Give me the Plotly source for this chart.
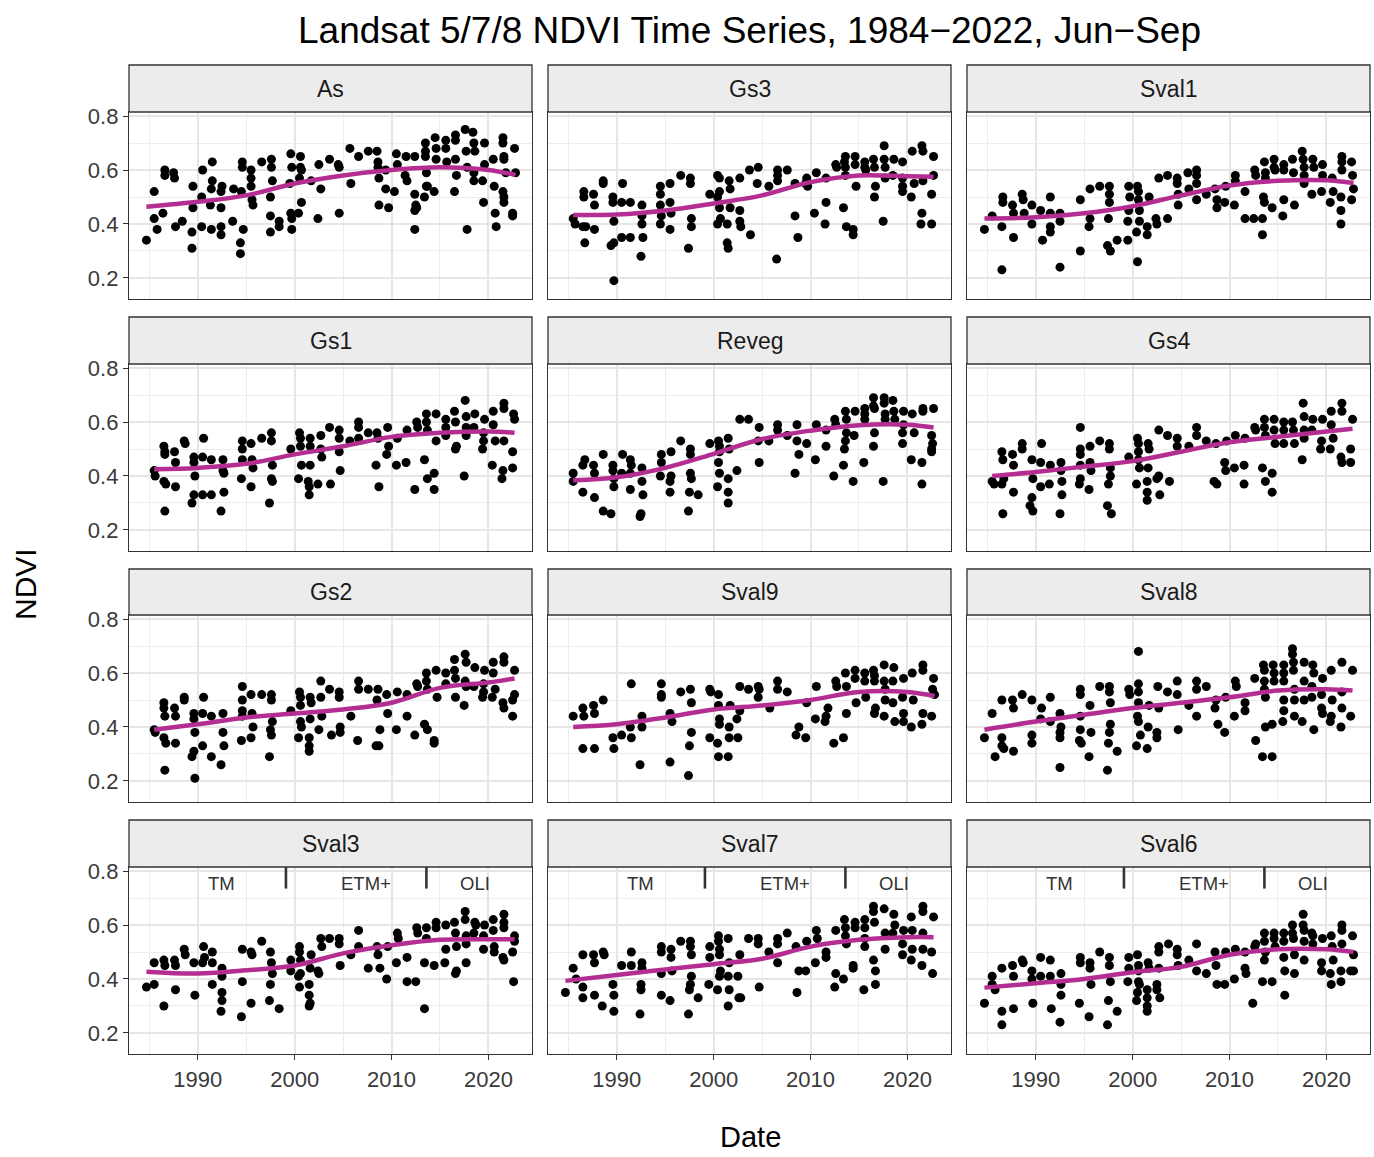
import plotly.graph_objects as go

# ---------------- data ----------------
PANELS = ["As", "Gs3", "Sval1", "Gs1", "Reveg", "Gs4", "Gs2", "Sval9", "Sval8", "Sval3", "Sval7", "Sval6"]

AS_YEAR = [1984.7, 1985.5, 1985.5, 1985.8, 1986.4, 1986.6, 1986.6, 1987.5, 1987.6, 1987.7,
           1988.4, 1989.4, 1989.4, 1989.5, 1989.5, 1990.4, 1990.4, 1990.5, 1991.3, 1991.4,
           1991.4, 1991.5, 1991.5, 1992.4, 1992.4, 1992.4, 1992.4, 1992.5, 1993.6, 1993.7,
           1994.4, 1994.4, 1994.5, 1994.7, 1994.6, 1994.6, 1995.5, 1995.5, 1995.5, 1995.6,
           1995.7, 1996.6, 1997.5, 1997.5, 1997.6, 1997.6, 1997.7, 1997.5, 1998.4, 1998.4,
           1999.6, 1999.7, 1999.5, 1999.6, 1999.7, 1999.7, 2000.4, 2000.6, 2000.6, 2000.7,
           2000.5, 2000.7, 2001.7, 2002.4, 2002.5, 2002.7, 2003.6, 2004.5, 2004.6, 2004.6,
           2005.7, 2005.8, 2006.6, 2007.6, 2008.5, 2008.6, 2008.6, 2008.7, 2008.7, 2009.4,
           2009.4, 2009.7, 2010.3, 2010.5, 2010.6, 2011.4, 2011.5, 2011.6, 2012.4, 2012.4,
           2012.5, 2012.4, 2012.4, 2012.6, 2013.5, 2013.5, 2013.5, 2013.6, 2013.6, 2013.4,
           2013.7, 2014.5, 2014.6, 2014.6, 2014.4, 2015.6, 2015.6, 2015.7, 2016.6, 2016.6,
           2016.6, 2016.7, 2016.5, 2017.6, 2017.7, 2017.8, 2017.8, 2018.4, 2018.5, 2018.6,
           2018.5, 2018.5, 2019.4, 2019.6, 2019.6, 2019.5, 2020.5, 2020.6, 2020.8, 2020.7,
           2021.5, 2021.5, 2021.6, 2021.6, 2021.5, 2021.6, 2021.6, 2021.8, 2022.5, 2022.5,
           2022.7, 2022.8]
AS_NDVI = [0.34, 0.52, 0.42, 0.38, 0.44, 0.60, 0.58, 0.59, 0.57, 0.39,
           0.41, 0.31, 0.37, 0.46, 0.54, 0.39, 0.50, 0.60, 0.47, 0.38,
           0.53, 0.56, 0.63, 0.36, 0.39, 0.46, 0.52, 0.54, 0.41, 0.53,
           0.33, 0.29, 0.52, 0.38, 0.63, 0.61, 0.60, 0.57, 0.54, 0.49,
           0.47, 0.63, 0.43, 0.37, 0.64, 0.61, 0.56, 0.50, 0.41, 0.39,
           0.66, 0.61, 0.55, 0.44, 0.42, 0.38, 0.44, 0.65, 0.61, 0.60,
           0.57, 0.48, 0.56, 0.42, 0.62, 0.53, 0.64, 0.62, 0.61, 0.44,
           0.68, 0.55, 0.65, 0.67, 0.67, 0.63, 0.61, 0.57, 0.47, 0.60,
           0.53, 0.46, 0.52, 0.66, 0.62, 0.58, 0.65, 0.56, 0.65, 0.51,
           0.47, 0.45, 0.38, 0.46, 0.70, 0.67, 0.65, 0.59, 0.54, 0.50,
           0.54, 0.72, 0.68, 0.64, 0.52, 0.71, 0.68, 0.63, 0.73, 0.71,
           0.64, 0.58, 0.52, 0.75, 0.67, 0.61, 0.38, 0.74, 0.70, 0.67,
           0.59, 0.56, 0.56, 0.70, 0.62, 0.48, 0.64, 0.54, 0.39, 0.44,
           0.72, 0.70, 0.65, 0.64, 0.52, 0.50, 0.48, 0.59, 0.44, 0.43,
           0.68, 0.59]

GS3_YEAR = [1985.5, 1985.7, 1986.6, 1986.6, 1986.5, 1986.7, 1986.8, 1987.6, 1987.7, 1987.7,
            1988.6, 1988.6, 1989.6, 1989.6, 1989.7, 1989.7, 1989.4, 1989.7, 1990.5, 1990.6,
            1990.5, 1991.4, 1991.4, 1992.6, 1992.6, 1992.6, 1992.7, 1992.5, 1994.5, 1994.5,
            1994.5, 1994.6, 1994.5, 1995.5, 1995.5, 1995.6, 1995.5, 1996.6, 1997.6, 1997.6,
            1997.7, 1997.7, 1997.4, 1999.6, 2000.4, 2000.6, 2000.6, 2000.4, 2000.6, 2000.7,
            2000.4, 2001.4, 2001.4, 2001.5, 2001.6, 2001.7, 2001.7, 2002.7, 2002.7, 2002.7,
            2002.8, 2003.7, 2003.8, 2004.6, 2004.5, 2005.7, 2006.6, 2006.6, 2006.6, 2007.6,
            2006.5, 2008.4, 2008.7, 2008.4, 2009.5, 2009.6, 2009.7, 2010.4, 2010.6, 2011.6,
            2011.5, 2011.6, 2012.6, 2012.7, 2013.4, 2013.6, 2013.5, 2013.6, 2013.6, 2013.7,
            2014.4, 2014.4, 2014.6, 2014.6, 2014.7, 2015.6, 2015.6, 2015.7, 2016.5, 2016.6,
            2016.7, 2016.6, 2017.5, 2017.6, 2017.6, 2017.7, 2017.7, 2018.6, 2018.5, 2019.5,
            2019.5, 2019.5, 2019.5, 2020.4, 2020.5, 2020.7, 2021.5, 2021.6, 2021.6, 2021.5,
            2021.4, 2022.5, 2022.5, 2022.7, 2022.7]
GS3_NDVI = [0.42, 0.40, 0.52, 0.50, 0.39, 0.33, 0.39, 0.51, 0.47, 0.38,
            0.56, 0.55, 0.50, 0.48, 0.41, 0.33, 0.32, 0.19, 0.48, 0.55,
            0.35, 0.48, 0.35, 0.47, 0.43, 0.40, 0.35, 0.28, 0.54, 0.51,
            0.47, 0.43, 0.40, 0.55, 0.48, 0.44, 0.38, 0.58, 0.57, 0.55,
            0.42, 0.39, 0.31, 0.51, 0.58, 0.57, 0.52, 0.50, 0.46, 0.42,
            0.40, 0.40, 0.33, 0.31, 0.56, 0.53, 0.46, 0.57, 0.45, 0.41,
            0.39, 0.60, 0.36, 0.61, 0.55, 0.54, 0.60, 0.58, 0.56, 0.60,
            0.27, 0.43, 0.35, 0.55, 0.55, 0.57, 0.54, 0.44, 0.59, 0.48,
            0.40, 0.57, 0.62, 0.61, 0.46, 0.65, 0.63, 0.61, 0.58, 0.39,
            0.38, 0.36, 0.65, 0.62, 0.54, 0.63, 0.61, 0.60, 0.64, 0.61,
            0.54, 0.50, 0.41, 0.69, 0.64, 0.61, 0.57, 0.64, 0.58, 0.63,
            0.57, 0.54, 0.52, 0.50, 0.67, 0.55, 0.69, 0.67, 0.56, 0.44,
            0.40, 0.40, 0.51, 0.65, 0.58]

SVAL1_YEAR = [1984.7, 1985.5, 1986.6, 1986.6, 1986.5, 1986.5, 1987.6, 1987.7, 1987.7, 1988.6,
              1988.7, 1988.8, 1989.6, 1989.6, 1990.5, 1990.7, 1991.5, 1991.5, 1991.5, 1991.5,
              1992.5, 1992.5, 1992.5, 1994.6, 1994.6, 1995.6, 1995.6, 1995.5, 1996.6, 1997.4,
              1997.7, 1997.6, 1997.6, 1997.6, 1997.5, 1998.4, 1999.6, 1999.7, 1999.6, 1999.5,
              1999.5, 2000.5, 2000.6, 2000.6, 2000.7, 2000.7, 2000.4, 2000.5, 2001.5, 2001.5,
              2001.7, 2002.4, 2002.5, 2002.7, 2003.6, 2003.6, 2004.6, 2004.6, 2004.7, 2004.7,
              2005.7, 2005.8, 2006.6, 2006.6, 2006.6, 2006.6, 2007.6, 2008.5, 2008.7, 2008.7,
              2009.5, 2009.6, 2010.5, 2010.6, 2010.6, 2011.6, 2011.6, 2012.5, 2012.6, 2012.7,
              2013.4, 2013.4, 2013.5, 2013.6, 2013.6, 2013.7, 2013.7, 2014.4, 2014.6, 2014.6,
              2014.7, 2015.6, 2015.6, 2015.6, 2015.5, 2016.5, 2016.6, 2016.7, 2017.5, 2017.6,
              2017.7, 2017.7, 2017.7, 2018.5, 2018.6, 2018.7, 2019.6, 2019.6, 2019.5, 2020.4,
              2020.6, 2020.7, 2021.6, 2021.6, 2021.6, 2021.5, 2021.5, 2021.5, 2022.6, 2022.7,
              2022.8, 2022.6]
SVAL1_NDVI = [0.38, 0.43, 0.50, 0.48, 0.39, 0.23, 0.47, 0.44, 0.35, 0.51,
              0.49, 0.44, 0.47, 0.40, 0.45, 0.34, 0.50, 0.44, 0.39, 0.37,
              0.44, 0.41, 0.24, 0.49, 0.30, 0.53, 0.42, 0.39, 0.54, 0.32,
              0.30, 0.54, 0.51, 0.48, 0.42, 0.34, 0.54, 0.50, 0.45, 0.41,
              0.34, 0.54, 0.52, 0.49, 0.45, 0.41, 0.37, 0.26, 0.39, 0.36,
              0.50, 0.42, 0.40, 0.57, 0.42, 0.58, 0.57, 0.55, 0.47, 0.51,
              0.59, 0.53, 0.60, 0.58, 0.55, 0.49, 0.51, 0.53, 0.49, 0.46,
              0.48, 0.54, 0.47, 0.58, 0.56, 0.52, 0.42, 0.42, 0.60, 0.58,
              0.42, 0.36, 0.50, 0.48, 0.63, 0.59, 0.57, 0.46, 0.64, 0.61,
              0.60, 0.62, 0.60, 0.49, 0.43, 0.64, 0.59, 0.47, 0.67, 0.64,
              0.61, 0.55, 0.58, 0.51, 0.64, 0.61, 0.62, 0.58, 0.52, 0.48,
              0.57, 0.52, 0.65, 0.63, 0.60, 0.50, 0.45, 0.40, 0.63, 0.58,
              0.53, 0.49]

GS1_YEAR = [1985.5, 1985.6, 1986.5, 1986.6, 1986.6, 1986.5, 1986.7, 1986.6, 1987.6, 1987.7,
            1987.7, 1988.6, 1988.7, 1989.6, 1989.6, 1989.7, 1989.6, 1989.4, 1990.5, 1990.6,
            1990.5, 1991.4, 1991.4, 1992.6, 1992.6, 1992.7, 1992.7, 1992.4, 1994.6, 1994.6,
            1994.6, 1994.5, 1995.5, 1995.6, 1995.7, 1995.5, 1996.6, 1997.6, 1997.6, 1997.7,
            1997.6, 1997.7, 1997.4, 1999.6, 2000.4, 2000.5, 2000.6, 2000.6, 2000.7, 2001.4,
            2001.5, 2001.5, 2001.6, 2001.6, 2001.6, 2002.4, 2002.7, 2002.7, 2002.8, 2003.6,
            2003.7, 2004.6, 2004.6, 2004.7, 2004.6, 2005.7, 2006.6, 2006.6, 2006.6, 2007.6,
            2008.4, 2008.7, 2008.5, 2008.6, 2009.5, 2009.6, 2009.7, 2010.5, 2010.6, 2011.5,
            2011.6, 2012.4, 2012.6, 2012.7, 2013.4, 2013.6, 2013.6, 2013.7, 2013.7, 2014.4,
            2014.4, 2014.6, 2014.6, 2015.6, 2015.6, 2015.6, 2016.5, 2016.6, 2016.7, 2016.6,
            2017.5, 2017.6, 2017.7, 2017.7, 2017.7, 2018.6, 2018.5, 2019.6, 2019.5, 2019.5,
            2019.4, 2020.4, 2020.5, 2020.5, 2020.7, 2021.6, 2021.6, 2021.6, 2021.5, 2021.4,
            2022.5, 2022.5, 2022.6, 2022.7]
GS1_NDVI = [0.42, 0.40, 0.51, 0.49, 0.48, 0.38, 0.37, 0.27, 0.49, 0.45,
            0.36, 0.53, 0.52, 0.47, 0.45, 0.40, 0.33, 0.30, 0.47, 0.54,
            0.33, 0.46, 0.33, 0.46, 0.42, 0.41, 0.34, 0.27, 0.53, 0.50,
            0.46, 0.39, 0.52, 0.46, 0.43, 0.36, 0.54, 0.56, 0.53, 0.44,
            0.39, 0.38, 0.30, 0.50, 0.39, 0.56, 0.54, 0.51, 0.44, 0.38,
            0.36, 0.33, 0.54, 0.51, 0.44, 0.37, 0.55, 0.50, 0.47, 0.58,
            0.37, 0.57, 0.54, 0.42, 0.49, 0.53, 0.60, 0.58, 0.54, 0.56,
            0.44, 0.36, 0.56, 0.54, 0.48, 0.58, 0.51, 0.44, 0.54, 0.45,
            0.57, 0.35, 0.60, 0.58, 0.46, 0.63, 0.60, 0.57, 0.39, 0.41,
            0.35, 0.63, 0.53, 0.61, 0.58, 0.55, 0.64, 0.60, 0.51, 0.50,
            0.40, 0.68, 0.62, 0.58, 0.55, 0.63, 0.58, 0.61, 0.56, 0.53,
            0.50, 0.44, 0.64, 0.59, 0.53, 0.67, 0.65, 0.53, 0.42, 0.39,
            0.43, 0.49, 0.63, 0.61]

REVEG_YEAR = [1985.5, 1985.5, 1986.5, 1986.7, 1986.5, 1987.6, 1987.7, 1987.7, 1988.6, 1988.6,
              1989.4, 1989.6, 1989.6, 1989.7, 1989.7, 1990.5, 1990.6, 1991.4, 1991.5, 1991.4,
              1991.4, 1992.6, 1992.6, 1992.7, 1992.5, 1992.4, 1994.6, 1994.6, 1994.5, 1995.6,
              1995.6, 1995.5, 1995.5, 1996.6, 1997.6, 1997.6, 1997.6, 1997.7, 1997.5, 1997.4,
              1998.4, 1999.6, 2000.5, 2000.6, 2000.6, 2000.5, 2000.6, 2000.4, 2001.5, 2001.6,
              2001.5, 2001.5, 2001.5, 2002.4, 2002.7, 2003.6, 2004.6, 2004.7, 2004.7, 2005.7,
              2006.6, 2006.6, 2007.6, 2008.4, 2008.6, 2008.6, 2008.8, 2009.6, 2010.5, 2010.6,
              2011.6, 2011.6, 2012.4, 2012.5, 2012.6, 2013.4, 2013.5, 2013.6, 2013.6, 2013.7,
              2013.7, 2014.4, 2014.5, 2014.6, 2015.5, 2015.6, 2015.6, 2015.6, 2016.5, 2016.5,
              2016.6, 2016.6, 2016.5, 2017.5, 2017.6, 2017.6, 2017.7, 2017.7, 2018.5, 2018.6,
              2018.7, 2019.5, 2019.5, 2019.6, 2019.6, 2020.4, 2020.5, 2020.7, 2021.5, 2021.5,
              2021.6, 2021.6, 2022.7, 2022.5, 2022.6, 2022.5, 2022.5]
REVEG_NDVI = [0.41, 0.38, 0.44, 0.46, 0.34, 0.44, 0.41, 0.32, 0.48, 0.27,
              0.26, 0.44, 0.42, 0.39, 0.36, 0.41, 0.48, 0.46, 0.44, 0.41,
              0.35, 0.43, 0.38, 0.33, 0.26, 0.25, 0.48, 0.45, 0.40, 0.49,
              0.40, 0.38, 0.34, 0.53, 0.50, 0.48, 0.41, 0.39, 0.34, 0.27,
              0.33, 0.52, 0.53, 0.51, 0.49, 0.45, 0.41, 0.36, 0.54, 0.50,
              0.39, 0.34, 0.30, 0.42, 0.61, 0.61, 0.53, 0.58, 0.45, 0.53,
              0.59, 0.57, 0.55, 0.41, 0.59, 0.53, 0.48, 0.52, 0.46, 0.59,
              0.51, 0.57, 0.40, 0.61, 0.59, 0.44, 0.50, 0.53, 0.64, 0.61,
              0.56, 0.38, 0.55, 0.64, 0.45, 0.65, 0.63, 0.61, 0.69, 0.66,
              0.65, 0.56, 0.51, 0.38, 0.69, 0.67, 0.63, 0.61, 0.68, 0.64,
              0.61, 0.56, 0.52, 0.64, 0.59, 0.46, 0.63, 0.56, 0.37, 0.45,
              0.65, 0.64, 0.65, 0.55, 0.52, 0.50, 0.49]

GS4_YEAR = [1985.5, 1985.7, 1986.5, 1986.6, 1986.5, 1986.7, 1986.6, 1987.6, 1987.7, 1987.7,
            1988.6, 1988.6, 1989.6, 1989.7, 1989.6, 1989.4, 1989.7, 1990.5, 1990.6, 1990.5,
            1991.5, 1991.4, 1992.6, 1992.6, 1992.7, 1992.7, 1992.5, 1994.6, 1994.6, 1994.6,
            1994.6, 1994.6, 1994.5, 1995.6, 1995.6, 1995.7, 1995.5, 1996.6, 1997.6, 1997.6,
            1997.7, 1997.7, 1997.5, 1997.4, 1997.8, 1999.6, 2000.5, 2000.6, 2000.6, 2000.6,
            2000.7, 2000.4, 2001.5, 2001.5, 2001.5, 2001.6, 2001.7, 2001.6, 2002.7, 2002.8,
            2002.5, 2002.7, 2003.6, 2003.8, 2004.6, 2004.6, 2005.8, 2006.6, 2006.6, 2007.6,
            2008.4, 2008.7, 2008.6, 2009.5, 2009.6, 2009.7, 2010.5, 2010.6, 2011.5, 2011.5,
            2011.6, 2012.6, 2012.7, 2013.4, 2013.7, 2013.6, 2013.6, 2013.7, 2014.4, 2014.4,
            2014.6, 2014.6, 2014.7, 2015.6, 2015.6, 2015.6, 2016.5, 2016.6, 2016.7, 2017.5,
            2017.6, 2017.7, 2017.7, 2017.7, 2018.6, 2018.5, 2019.6, 2019.5, 2019.4, 2020.4,
            2020.5, 2020.5, 2020.7, 2021.6, 2021.6, 2021.5, 2021.6, 2022.5, 2022.5, 2022.7]
GS4_NDVI = [0.38, 0.37, 0.49, 0.46, 0.37, 0.39, 0.26, 0.48, 0.44, 0.34,
            0.52, 0.50, 0.46, 0.39, 0.32, 0.29, 0.27, 0.45, 0.52, 0.36,
            0.44, 0.37, 0.45, 0.42, 0.38, 0.33, 0.26, 0.58, 0.50, 0.48,
            0.44, 0.39, 0.37, 0.51, 0.45, 0.42, 0.35, 0.53, 0.52, 0.50,
            0.43, 0.40, 0.37, 0.29, 0.26, 0.47, 0.54, 0.52, 0.49, 0.46,
            0.43, 0.37, 0.38, 0.34, 0.31, 0.52, 0.50, 0.43, 0.40, 0.33,
            0.39, 0.57, 0.55, 0.38, 0.54, 0.51, 0.51, 0.58, 0.55, 0.53,
            0.38, 0.37, 0.52, 0.45, 0.42, 0.53, 0.43, 0.55, 0.44, 0.37,
            0.54, 0.58, 0.57, 0.43, 0.38, 0.61, 0.58, 0.55, 0.41, 0.34,
            0.61, 0.57, 0.52, 0.60, 0.57, 0.52, 0.60, 0.57, 0.52, 0.46,
            0.67, 0.62, 0.57, 0.54, 0.61, 0.57, 0.61, 0.53, 0.50, 0.50,
            0.64, 0.59, 0.54, 0.67, 0.64, 0.47, 0.45, 0.50, 0.45, 0.61]

GS2_YEAR = [1985.5, 1985.6, 1986.5, 1986.5, 1986.6, 1986.5, 1986.7, 1986.6, 1987.6, 1987.7,
            1987.7, 1988.6, 1988.6, 1989.6, 1989.6, 1989.7, 1989.6, 1989.4, 1989.7, 1990.5,
            1990.6, 1990.5, 1991.4, 1991.4, 1992.6, 1992.6, 1992.7, 1992.4, 1994.6, 1994.6,
            1994.6, 1994.6, 1994.5, 1995.5, 1995.6, 1995.7, 1995.5, 1996.6, 1997.6, 1997.6,
            1997.7, 1997.5, 1997.6, 1997.4, 1999.6, 2000.4, 2000.5, 2000.6, 2000.6, 2000.6,
            2000.7, 2001.5, 2001.5, 2001.5, 2001.6, 2001.7, 2001.6, 2002.5, 2002.7, 2002.7,
            2002.8, 2003.6, 2003.8, 2004.6, 2004.6, 2004.7, 2004.7, 2005.8, 2006.5, 2006.6,
            2006.6, 2007.6, 2008.4, 2008.7, 2008.8, 2008.6, 2008.5, 2009.5, 2009.6, 2010.5,
            2010.6, 2011.6, 2011.6, 2012.4, 2012.6, 2012.7, 2013.4, 2013.7, 2013.6, 2013.6,
            2013.7, 2014.4, 2014.4, 2014.6, 2014.7, 2015.6, 2015.6, 2016.5, 2016.5, 2016.6,
            2016.6, 2017.5, 2017.6, 2017.7, 2017.6, 2017.7, 2018.6, 2018.5, 2019.6, 2019.5,
            2019.5, 2019.4, 2020.4, 2020.5, 2020.5, 2020.7, 2021.6, 2021.6, 2021.5, 2021.6,
            2022.5, 2022.5, 2022.7, 2022.7]
GS2_NDVI = [0.39, 0.38, 0.49, 0.47, 0.44, 0.36, 0.34, 0.24, 0.47, 0.44,
            0.34, 0.51, 0.50, 0.45, 0.43, 0.38, 0.31, 0.29, 0.21, 0.45,
            0.51, 0.33, 0.44, 0.29, 0.45, 0.38, 0.33, 0.26, 0.55, 0.50,
            0.46, 0.44, 0.35, 0.52, 0.45, 0.40, 0.36, 0.52, 0.52, 0.50,
            0.42, 0.39, 0.37, 0.29, 0.46, 0.36, 0.53, 0.51, 0.48, 0.42,
            0.40, 0.36, 0.33, 0.31, 0.51, 0.49, 0.43, 0.39, 0.57, 0.51,
            0.44, 0.54, 0.37, 0.53, 0.51, 0.40, 0.38, 0.44, 0.35, 0.57,
            0.54, 0.54, 0.33, 0.33, 0.39, 0.54, 0.50, 0.52, 0.45, 0.39,
            0.53, 0.44, 0.52, 0.37, 0.56, 0.55, 0.41, 0.39, 0.60, 0.57,
            0.54, 0.35, 0.34, 0.61, 0.51, 0.60, 0.56, 0.65, 0.61, 0.58,
            0.51, 0.48, 0.67, 0.64, 0.57, 0.55, 0.62, 0.55, 0.61, 0.56,
            0.53, 0.51, 0.51, 0.64, 0.60, 0.54, 0.66, 0.64, 0.49, 0.47,
            0.44, 0.50, 0.52, 0.61]

SVAL9_YEAR = [1985.5, 1986.5, 1986.6, 1986.5, 1987.6, 1987.7, 1987.7, 1988.6, 1989.6, 1989.7,
              1990.5, 1991.4, 1991.5, 1991.5, 1992.6, 1992.6, 1992.4, 1994.6, 1994.6, 1994.6,
              1995.5, 1995.7, 1995.5, 1996.6, 1997.6, 1997.7, 1997.7, 1997.5, 1997.4, 1999.6,
              1999.7, 1999.6, 2000.5, 2000.5, 2000.6, 2000.6, 2000.4, 2000.5, 2001.5, 2001.6,
              2001.6, 2001.7, 2002.4, 2002.5, 2002.7, 2002.7, 2003.6, 2004.6, 2004.6, 2004.7,
              2005.8, 2006.6, 2006.6, 2007.6, 2008.5, 2008.8, 2009.5, 2009.6, 2010.5, 2010.6,
              2011.5, 2011.6, 2011.8, 2012.4, 2012.6, 2012.7, 2013.4, 2013.7, 2013.6, 2013.7,
              2014.6, 2014.7, 2014.6, 2015.6, 2015.6, 2015.7, 2016.5, 2016.6, 2016.6, 2016.7,
              2016.6, 2017.6, 2017.6, 2017.7, 2017.6, 2017.7, 2018.6, 2018.5, 2018.5, 2018.7,
              2019.6, 2019.5, 2019.6, 2019.6, 2020.4, 2020.5, 2020.6, 2021.5, 2021.6, 2021.6,
              2021.6, 2022.5, 2022.7, 2022.6, 2022.8]
SVAL9_NDVI = [0.44, 0.47, 0.44, 0.32, 0.48, 0.45, 0.32, 0.50, 0.36, 0.32,
              0.37, 0.40, 0.36, 0.56, 0.44, 0.40, 0.26, 0.56, 0.52, 0.51,
              0.45, 0.42, 0.27, 0.53, 0.54, 0.49, 0.38, 0.33, 0.22, 0.54,
              0.53, 0.36, 0.52, 0.48, 0.43, 0.41, 0.34, 0.29, 0.29, 0.40,
              0.36, 0.48, 0.43, 0.36, 0.46, 0.55, 0.54, 0.55, 0.51, 0.54,
              0.47, 0.57, 0.54, 0.53, 0.37, 0.40, 0.36, 0.49, 0.43, 0.55,
              0.42, 0.44, 0.47, 0.34, 0.57, 0.55, 0.36, 0.45, 0.60, 0.55,
              0.61, 0.49, 0.58, 0.60, 0.57, 0.51, 0.61, 0.59, 0.57, 0.47,
              0.45, 0.63, 0.57, 0.50, 0.44, 0.54, 0.62, 0.57, 0.49, 0.42,
              0.58, 0.51, 0.45, 0.42, 0.40, 0.60, 0.50, 0.41, 0.63, 0.61,
              0.45, 0.44, 0.58, 0.54, 0.52]

SVAL8_YEAR = [1984.7, 1985.5, 1985.8, 1986.5, 1986.5, 1986.5, 1986.7, 1987.6, 1987.7, 1987.7,
              1988.6, 1989.6, 1989.6, 1989.6, 1990.5, 1990.6, 1991.5, 1991.5, 1992.5, 1992.6,
              1992.5, 1992.5, 1992.5, 1994.6, 1994.6, 1994.6, 1994.6, 1994.5, 1994.7, 1995.6,
              1995.7, 1995.5, 1996.6, 1997.6, 1997.6, 1997.7, 1997.7, 1997.6, 1997.5, 1997.4,
              1998.4, 1999.6, 1999.7, 2000.4, 2000.6, 2000.6, 2000.6, 2000.6, 2000.5, 2000.6,
              2000.8, 2001.5, 2001.6, 2001.7, 2002.5, 2002.5, 2002.6, 2002.7, 2003.6, 2004.6,
              2004.6, 2004.7, 2005.8, 2006.6, 2006.6, 2006.6, 2007.6, 2008.5, 2008.6, 2008.8,
              2009.5, 2009.6, 2010.5, 2010.6, 2010.7, 2011.6, 2011.6, 2012.7, 2012.6, 2013.4,
              2013.5, 2013.6, 2013.6, 2013.6, 2013.7, 2013.7, 2014.4, 2014.4, 2014.5, 2014.6,
              2014.6, 2015.5, 2015.6, 2015.6, 2015.6, 2015.6, 2015.6, 2016.5, 2016.5, 2016.6,
              2016.6, 2016.7, 2016.7, 2016.7, 2017.5, 2017.7, 2017.7, 2017.7, 2018.6, 2018.7,
              2018.5, 2018.5, 2018.7, 2019.6, 2019.5, 2019.5, 2019.6, 2020.5, 2020.6, 2020.5,
              2020.4, 2021.6, 2021.6, 2021.6, 2021.5, 2022.5, 2022.7]
SVAL8_NDVI = [0.36, 0.45, 0.29, 0.50, 0.36, 0.33, 0.32, 0.50, 0.47, 0.31,
              0.52, 0.50, 0.37, 0.34, 0.43, 0.47, 0.42, 0.51, 0.45, 0.40,
              0.38, 0.36, 0.25, 0.54, 0.52, 0.44, 0.39, 0.35, 0.34, 0.48,
              0.38, 0.29, 0.55, 0.55, 0.53, 0.49, 0.41, 0.38, 0.34, 0.24,
              0.31, 0.54, 0.52, 0.33, 0.68, 0.56, 0.53, 0.49, 0.44, 0.42,
              0.37, 0.32, 0.40, 0.48, 0.38, 0.36, 0.55, 0.47, 0.53, 0.57,
              0.52, 0.39, 0.48, 0.57, 0.54, 0.44, 0.55, 0.47, 0.50, 0.41,
              0.38, 0.51, 0.44, 0.57, 0.55, 0.49, 0.46, 0.35, 0.58, 0.29,
              0.63, 0.61, 0.57, 0.54, 0.51, 0.40, 0.29, 0.41, 0.63, 0.60,
              0.57, 0.42, 0.63, 0.60, 0.57, 0.50, 0.46, 0.69, 0.67, 0.64,
              0.61, 0.54, 0.50, 0.44, 0.42, 0.64, 0.57, 0.50, 0.63, 0.60,
              0.55, 0.51, 0.39, 0.58, 0.52, 0.47, 0.45, 0.61, 0.50, 0.44,
              0.42, 0.64, 0.53, 0.47, 0.40, 0.44, 0.61]

SVAL3_YEAR = [1984.7, 1985.5, 1985.5, 1986.5, 1986.6, 1986.5, 1987.6, 1987.7, 1987.7, 1988.6,
              1988.7, 1989.6, 1989.7, 1990.5, 1990.6, 1990.7, 1991.5, 1991.5, 1991.5, 1992.5,
              1992.5, 1992.5, 1992.5, 1992.4, 1994.5, 1994.6, 1994.6, 1995.5, 1995.6, 1995.5,
              1996.6, 1997.5, 1997.6, 1997.7, 1997.5, 1997.4, 1998.4, 1999.6, 1999.6, 2000.5,
              2000.5, 2000.6, 2000.6, 2000.4, 2000.5, 2001.5, 2001.5, 2001.5, 2001.6, 2001.7,
              2001.6, 2002.4, 2002.5, 2002.7, 2002.8, 2003.6, 2004.6, 2004.6, 2004.7, 2005.8,
              2006.6, 2006.6, 2007.6, 2008.5, 2008.6, 2008.8, 2009.5, 2009.6, 2010.5, 2010.6,
              2010.7, 2011.6, 2011.6, 2012.5, 2012.6, 2012.7, 2013.4, 2013.4, 2013.6, 2013.6,
              2014.4, 2014.6, 2014.6, 2015.6, 2015.6, 2015.5, 2016.5, 2016.6, 2016.7, 2016.7,
              2016.6, 2017.6, 2017.6, 2017.7, 2017.7, 2017.7, 2018.6, 2018.5, 2018.7, 2019.6,
              2019.5, 2019.5, 2020.5, 2020.5, 2020.6, 2020.6, 2021.6, 2021.6, 2021.6, 2021.5,
              2021.6, 2022.5, 2022.7, 2022.7, 2022.6]
SVAL3_NDVI = [0.37, 0.38, 0.46, 0.47, 0.45, 0.30, 0.47, 0.45, 0.36, 0.51,
              0.49, 0.46, 0.34, 0.46, 0.52, 0.48, 0.50, 0.46, 0.38, 0.44,
              0.41, 0.35, 0.32, 0.28, 0.26, 0.51, 0.39, 0.50, 0.49, 0.31,
              0.54, 0.50, 0.46, 0.42, 0.38, 0.32, 0.29, 0.47, 0.43, 0.52,
              0.50, 0.47, 0.42, 0.41, 0.37, 0.38, 0.34, 0.30, 0.31, 0.49,
              0.44, 0.43, 0.42, 0.55, 0.52, 0.55, 0.55, 0.53, 0.45, 0.49,
              0.58, 0.52, 0.44, 0.52, 0.49, 0.44, 0.40, 0.52, 0.46, 0.57,
              0.55, 0.48, 0.39, 0.39, 0.59, 0.57, 0.29, 0.46, 0.59, 0.55,
              0.45, 0.61, 0.59, 0.60, 0.51, 0.46, 0.61, 0.57, 0.52, 0.43,
              0.42, 0.65, 0.62, 0.56, 0.53, 0.46, 0.61, 0.57, 0.60, 0.60,
              0.56, 0.51, 0.62, 0.58, 0.52, 0.50, 0.64, 0.61, 0.59, 0.48,
              0.47, 0.50, 0.56, 0.54, 0.39]

SVAL7_YEAR = [1984.7, 1985.5, 1985.8, 1986.5, 1986.5, 1986.5, 1987.6, 1987.7, 1987.7, 1988.5,
              1988.6, 1988.7, 1989.6, 1989.7, 1989.7, 1990.5, 1991.5, 1991.5, 1992.6, 1992.6,
              1992.5, 1992.5, 1992.4, 1994.6, 1994.6, 1994.6, 1994.6, 1995.5, 1995.6, 1995.6,
              1995.7, 1996.6, 1997.6, 1997.6, 1997.7, 1997.7, 1997.6, 1997.5, 1997.4, 1998.4,
              1999.6, 1999.6, 1999.5, 2000.5, 2000.5, 2000.6, 2000.6, 2000.7, 2000.6, 2000.4,
              2001.5, 2001.6, 2001.5, 2001.6, 2001.5, 2002.5, 2002.6, 2002.8, 2002.7, 2003.6,
              2004.6, 2004.6, 2004.7, 2005.7, 2006.6, 2006.6, 2006.6, 2007.6, 2008.5, 2008.6,
              2008.8, 2009.5, 2009.6, 2010.5, 2010.6, 2010.7, 2011.6, 2011.6, 2012.5, 2012.6,
              2012.6, 2013.4, 2013.5, 2013.6, 2013.6, 2013.7, 2014.4, 2014.4, 2014.6, 2014.6,
              2015.5, 2015.6, 2015.6, 2015.6, 2015.6, 2016.5, 2016.5, 2016.6, 2016.5, 2016.7,
              2016.7, 2017.6, 2017.7, 2017.7, 2018.6, 2018.7, 2018.5, 2019.6, 2019.5, 2019.5,
              2020.4, 2020.5, 2020.5, 2020.4, 2021.6, 2021.6, 2021.6, 2021.6, 2021.5, 2022.5,
              2022.7, 2022.6]
SVAL7_NDVI = [0.35, 0.44, 0.40, 0.49, 0.37, 0.33, 0.49, 0.46, 0.34, 0.30,
              0.50, 0.49, 0.38, 0.34, 0.28, 0.45, 0.50, 0.45, 0.46, 0.44,
              0.38, 0.36, 0.27, 0.52, 0.50, 0.42, 0.34, 0.32, 0.51, 0.48,
              0.43, 0.54, 0.54, 0.52, 0.49, 0.41, 0.38, 0.36, 0.27, 0.33,
              0.52, 0.48, 0.38, 0.56, 0.54, 0.51, 0.49, 0.43, 0.41, 0.36,
              0.55, 0.46, 0.41, 0.36, 0.30, 0.41, 0.33, 0.33, 0.49, 0.55,
              0.55, 0.53, 0.37, 0.50, 0.46, 0.55, 0.53, 0.57, 0.52, 0.35,
              0.43, 0.43, 0.54, 0.46, 0.58, 0.55, 0.48, 0.50, 0.37, 0.42,
              0.58, 0.40, 0.62, 0.59, 0.56, 0.53, 0.45, 0.44, 0.61, 0.59,
              0.36, 0.62, 0.59, 0.55, 0.52, 0.67, 0.65, 0.61, 0.47, 0.43,
              0.38, 0.66, 0.57, 0.51, 0.64, 0.60, 0.57, 0.58, 0.53, 0.49,
              0.63, 0.58, 0.51, 0.47, 0.67, 0.65, 0.57, 0.51, 0.45, 0.50,
              0.63, 0.42]

SVAL6_YEAR = [1984.7, 1985.5, 1985.5, 1985.8, 1986.5, 1986.5, 1986.5, 1987.6, 1987.7, 1987.7,
              1988.6, 1988.7, 1989.6, 1989.6, 1989.7, 1990.5, 1990.5, 1991.5, 1991.5, 1991.6,
              1992.6, 1992.6, 1992.6, 1992.5, 1994.6, 1994.6, 1994.5, 1995.6, 1995.6, 1995.7,
              1995.5, 1996.6, 1997.6, 1997.6, 1997.7, 1997.5, 1997.4, 1998.4, 1999.6, 1999.6,
              1999.5, 2000.5, 2000.6, 2000.6, 2000.6, 2000.7, 2000.5, 2000.4, 2001.5, 2001.5,
              2001.5, 2001.5, 2001.6, 2001.7, 2002.5, 2002.5, 2002.8, 2002.7, 2002.7, 2002.7,
              2003.7, 2004.6, 2004.6, 2004.7, 2005.8, 2006.6, 2006.6, 2007.6, 2008.5, 2008.6,
              2008.7, 2009.5, 2009.6, 2010.5, 2010.6, 2011.6, 2011.7, 2011.6, 2012.4, 2012.6,
              2012.7, 2013.4, 2013.6, 2013.6, 2013.6, 2013.7, 2014.4, 2014.6, 2014.6, 2014.7,
              2015.6, 2015.6, 2015.6, 2015.7, 2015.7, 2016.5, 2016.5, 2016.6, 2016.7, 2016.7,
              2017.6, 2017.6, 2017.7, 2017.7, 2017.7, 2018.5, 2018.6, 2018.6, 2019.6, 2019.5,
              2019.5, 2020.5, 2020.6, 2020.7, 2020.4, 2020.5, 2021.6, 2021.6, 2021.6, 2021.5,
              2021.5, 2022.7, 2022.8, 2022.5, 2022.8]
SVAL6_NDVI = [0.31, 0.41, 0.38, 0.36, 0.44, 0.28, 0.23, 0.45, 0.41, 0.29,
              0.47, 0.46, 0.43, 0.40, 0.31, 0.48, 0.41, 0.47, 0.41, 0.29,
              0.42, 0.38, 0.34, 0.24, 0.48, 0.46, 0.31, 0.46, 0.44, 0.38,
              0.26, 0.50, 0.48, 0.45, 0.39, 0.32, 0.23, 0.28, 0.48, 0.44,
              0.39, 0.49, 0.45, 0.43, 0.39, 0.38, 0.35, 0.32, 0.36, 0.33,
              0.30, 0.28, 0.46, 0.44, 0.38, 0.36, 0.33, 0.52, 0.50, 0.44,
              0.53, 0.51, 0.49, 0.45, 0.47, 0.43, 0.53, 0.42, 0.50, 0.45,
              0.38, 0.38, 0.50, 0.40, 0.51, 0.44, 0.42, 0.50, 0.31, 0.52,
              0.53, 0.39, 0.57, 0.54, 0.47, 0.50, 0.39, 0.57, 0.55, 0.52,
              0.57, 0.54, 0.48, 0.43, 0.34, 0.60, 0.57, 0.55, 0.49, 0.42,
              0.64, 0.60, 0.58, 0.54, 0.47, 0.57, 0.56, 0.53, 0.55, 0.46,
              0.43, 0.56, 0.52, 0.47, 0.42, 0.38, 0.60, 0.58, 0.53, 0.43,
              0.39, 0.56, 0.49, 0.43, 0.43]

# smoothed trend
SMOOTH_YEAR = [1985.0, 1990, 1995, 2000, 2005, 2010, 2015, 2020, 2022.7]
SMOOTH = {
    "As":    [0.464, 0.482, 0.506, 0.550, 0.580, 0.600, 0.610, 0.600, 0.582],
    "Gs3":   [0.433, 0.435, 0.450, 0.476, 0.506, 0.555, 0.580, 0.577, 0.575],
    "Sval1": [0.420, 0.425, 0.440, 0.466, 0.506, 0.543, 0.560, 0.562, 0.552],
    "Gs1":   [0.425, 0.430, 0.445, 0.480, 0.510, 0.545, 0.560, 0.565, 0.560],
    "Reveg": [0.384, 0.395, 0.430, 0.482, 0.537, 0.568, 0.588, 0.590, 0.580],
    "Gs4":   [0.400, 0.415, 0.435, 0.455, 0.490, 0.525, 0.545, 0.565, 0.575],
    "Gs2":   [0.390, 0.410, 0.435, 0.450, 0.465, 0.490, 0.545, 0.565, 0.580],
    "Sval9": [0.400, 0.410, 0.435, 0.465, 0.480, 0.500, 0.530, 0.530, 0.515],
    "Sval8": [0.390, 0.420, 0.445, 0.470, 0.490, 0.510, 0.535, 0.540, 0.535],
    "Sval3": [0.427, 0.420, 0.432, 0.450, 0.495, 0.525, 0.545, 0.547, 0.547],
    "Sval7": [0.393, 0.415, 0.435, 0.455, 0.475, 0.520, 0.545, 0.555, 0.555],
    "Sval6": [0.368, 0.384, 0.400, 0.425, 0.445, 0.490, 0.510, 0.510, 0.500],
}

SERIES = {
    "As": (AS_YEAR, AS_NDVI), "Gs3": (GS3_YEAR, GS3_NDVI), "Sval1": (SVAL1_YEAR, SVAL1_NDVI),
    "Gs1": (GS1_YEAR, GS1_NDVI), "Reveg": (REVEG_YEAR, REVEG_NDVI), "Gs4": (GS4_YEAR, GS4_NDVI),
    "Gs2": (GS2_YEAR, GS2_NDVI), "Sval9": (SVAL9_YEAR, SVAL9_NDVI), "Sval8": (SVAL8_YEAR, SVAL8_NDVI),
    "Sval3": (SVAL3_YEAR, SVAL3_NDVI), "Sval7": (SVAL7_YEAR, SVAL7_NDVI), "Sval6": (SVAL6_YEAR, SVAL6_NDVI),
}

SENSOR_LABELS = ["TM", "ETM+", "OLI"]
SENSOR_LABEL_YEAR = [1992.4, 2007.4, 2018.6]
SENSOR_BREAK_YEAR = [1999.1, 2013.6]

X_TICKS = [1990, 2000, 2010, 2020]
Y_TICKS = [0.2, 0.4, 0.6, 0.8]

# ---------------- layout geometry ----------------
W, H = 1374, 1157
COL_X = [(129, 532), (548, 951), (967, 1370)]
ROW_PLOT = [(112, 299), (364, 551), (615, 802), (867, 1054)]
ROW_STRIP = [(65, 112), (317, 364), (569, 615), (820, 867)]
X_RANGE = [1982.9, 2024.5]
Y_RANGE = [0.122, 0.815]

FONT = "Liberation Sans, Arial, Helvetica, sans-serif"
BORDER = "#333333"
MAGENTA = "#B42E91"
TICK_SIZE = 22


def px(x):
    return x / W


def py(y):
    return 1 - y / H


fig = go.Figure()
shapes = []
annotations = []

for k, name in enumerate(PANELS):
    r, c = divmod(k, 3)
    sfx = "" if k == 0 else str(k + 1)
    xa, ya = "x" + sfx, "y" + sfx
    xs, ys = SERIES[name]
    fig.add_trace(go.Scatter(x=xs, y=ys, mode="markers", xaxis=xa, yaxis=ya,
                             marker=dict(size=9, color="black", line=dict(width=0)),
                             hoverinfo="x+y", showlegend=False))
    sx = [min(xs)] + SMOOTH_YEAR[1:-1] + [max(xs)]
    fig.add_trace(go.Scatter(x=sx, y=SMOOTH[name], mode="lines", xaxis=xa, yaxis=ya,
                             line=dict(color=MAGENTA, width=4.5, shape="spline", smoothing=1.0),
                             hoverinfo="skip", showlegend=False))

    x0, x1 = COL_X[c]
    t, b = ROW_PLOT[r]
    bottom = r == 3
    left = c == 0
    fig.layout["xaxis" + sfx] = dict(
        domain=[px(x0), px(x1)], range=X_RANGE, anchor=ya,
        tickmode="array", tickvals=X_TICKS, showticklabels=bottom,
        ticks="outside" if bottom else "", ticklen=5, tickwidth=1.2, tickcolor=BORDER,
        tickfont=dict(size=TICK_SIZE, color="#3A3A3A", family=FONT),
        showgrid=True, gridcolor="#E6E6E6", gridwidth=1.6,
        minor=dict(tickmode="array", tickvals=[1985, 1995, 2005, 2015],
                   showgrid=True, gridcolor="#EDEDED", gridwidth=1.1),
        showline=True, mirror=True, linecolor=BORDER, linewidth=1.3,
        zeroline=False, fixedrange=True,
    )
    fig.layout["yaxis" + sfx] = dict(
        domain=[py(b), py(t)], range=Y_RANGE, anchor=xa,
        tickmode="array", tickvals=Y_TICKS, ticktext=[f"{v:.1f}" for v in Y_TICKS],
        showticklabels=left,
        ticks="outside" if left else "", ticklen=5, tickwidth=1.2, tickcolor=BORDER,
        tickfont=dict(size=TICK_SIZE, color="#3A3A3A", family=FONT),
        showgrid=True, gridcolor="#E6E6E6", gridwidth=1.6,
        minor=dict(tickmode="array", tickvals=[0.3, 0.5, 0.7],
                   showgrid=True, gridcolor="#EDEDED", gridwidth=1.1),
        showline=True, mirror=True, linecolor=BORDER, linewidth=1.3,
        zeroline=False, fixedrange=True,
    )

    # strip
    st, sb = ROW_STRIP[r]
    shapes.append(dict(type="rect", xref="paper", yref="paper",
                       x0=px(x0), x1=px(x1), y0=py(sb), y1=py(st),
                       fillcolor="#ECECEC", line=dict(color=BORDER, width=1.3), layer="above"))
    annotations.append(dict(text=name, xref="paper", yref="paper",
                            x=px((x0 + x1) / 2), y=py((st + sb) / 2),
                            xanchor="center", yanchor="middle", showarrow=False,
                            font=dict(size=23, color="#1A1A1A", family=FONT)))

    # sensor annotations in the bottom row
    if bottom:
        for yr in SENSOR_BREAK_YEAR:
            shapes.append(dict(type="line", xref=xa, yref=ya, x0=yr, x1=yr, y0=0.735, y1=Y_RANGE[1],
                               line=dict(color=BORDER, width=2.6)))
        for lab, yr in zip(SENSOR_LABELS, SENSOR_LABEL_YEAR):
            annotations.append(dict(text=lab, xref=xa, yref=ya, x=yr, y=0.755,
                                    xanchor="center", yanchor="middle", showarrow=False,
                                    font=dict(size=18.5, color="#333333", family=FONT)))

# titles
annotations.append(dict(text="Landsat 5/7/8 NDVI Time Series, 1984\u22122022, Jun\u2212Sep",
                        xref="paper", yref="paper", x=px(749), y=py(31),
                        xanchor="center", yanchor="middle", showarrow=False,
                        font=dict(size=37, color="black", family=FONT)))
annotations.append(dict(text="NDVI", xref="paper", yref="paper", x=px(25), y=py(584),
                        xanchor="center", yanchor="middle", showarrow=False, textangle=-90,
                        font=dict(size=30, color="black", family=FONT)))
annotations.append(dict(text="Date", xref="paper", yref="paper", x=px(750), y=py(1155),
                        xanchor="center", yanchor="bottom", showarrow=False,
                        font=dict(size=29, color="black", family=FONT)))

fig.update_layout(
    width=W, height=H, margin=dict(l=0, r=0, t=0, b=0),
    template="none", paper_bgcolor="white", plot_bgcolor="white",
    showlegend=False, shapes=shapes, annotations=annotations,
    font=dict(family=FONT),
)

fig.write_html("out.html", config={"displayModeBar": False})
